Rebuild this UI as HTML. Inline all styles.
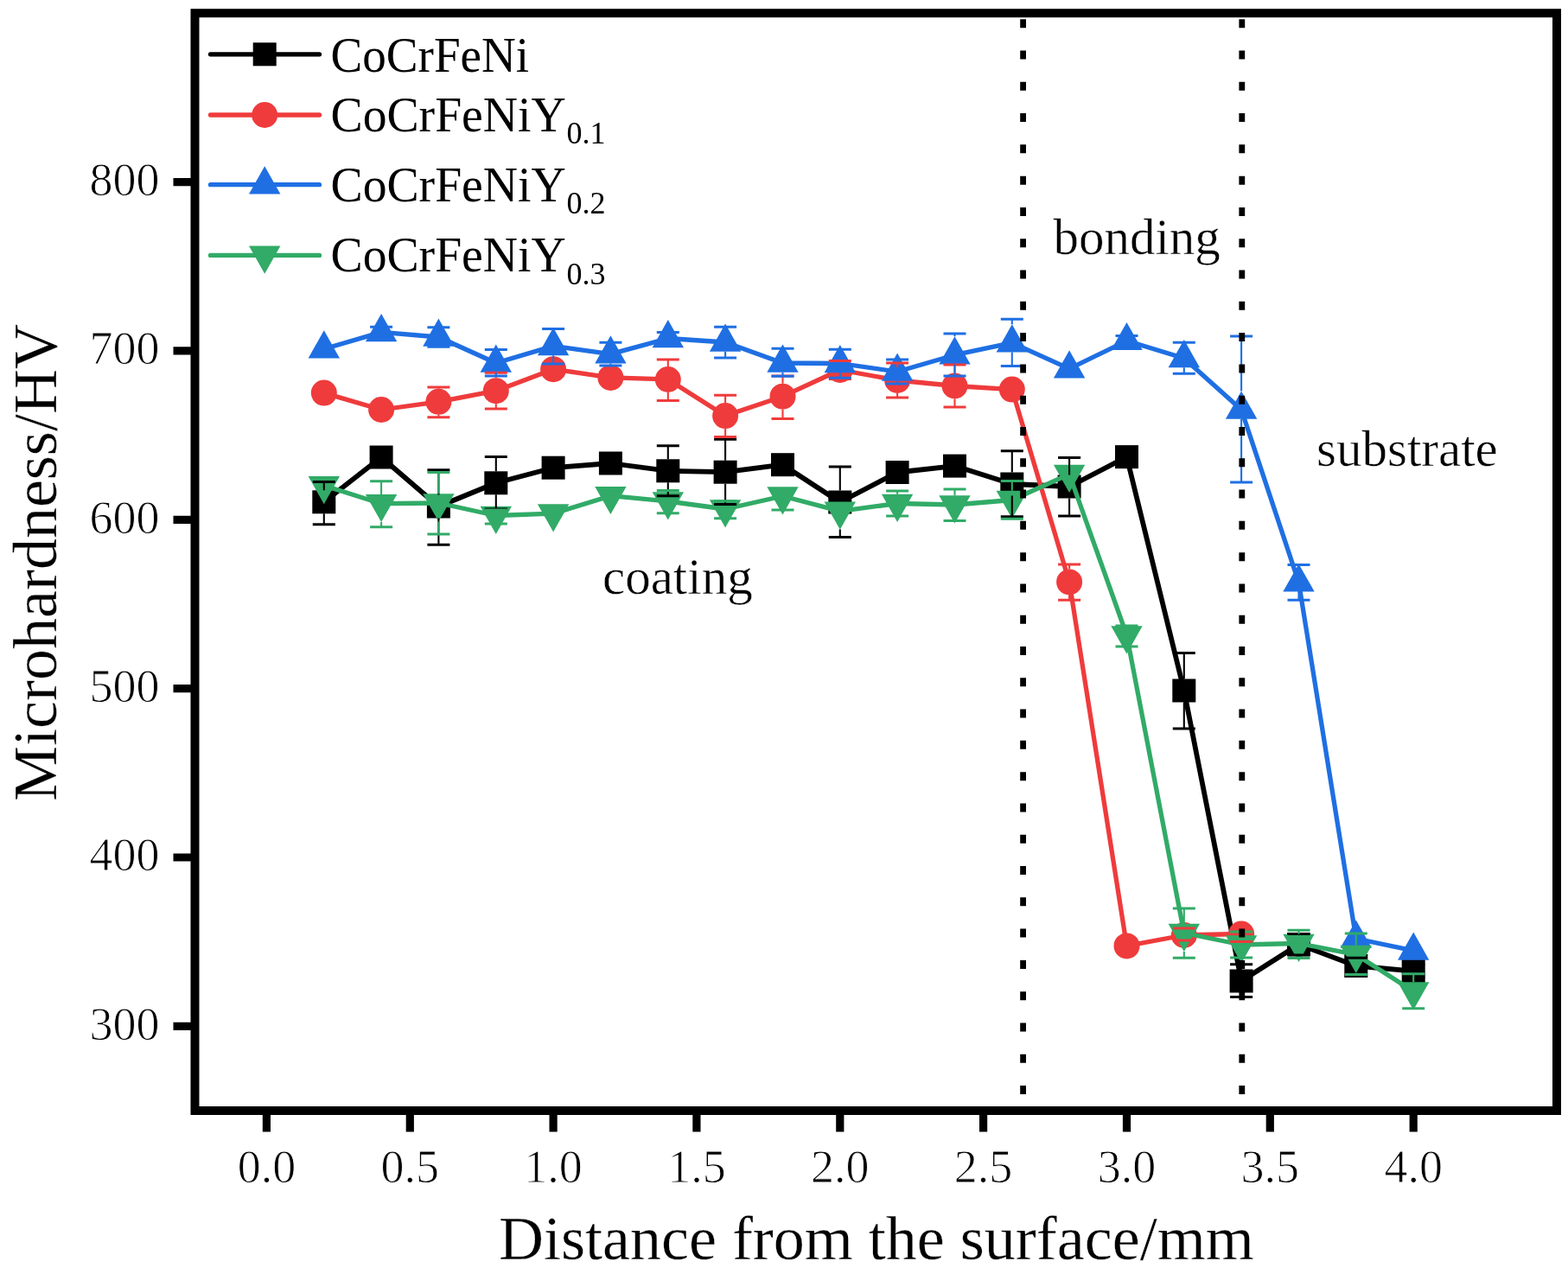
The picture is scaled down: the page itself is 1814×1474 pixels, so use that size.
<!DOCTYPE html>
<html><head><meta charset="utf-8"><title>Microhardness chart</title>
<style>
html,body{margin:0;padding:0;background:#fff;}
body{width:1814px;height:1474px;overflow:hidden;}
svg{display:block;}
text{fill:#000;}
.tk{stroke:#fff;stroke-width:0.9px;}
.an{stroke:#fff;stroke-width:0.5px;}
.ti{stroke:#fff;stroke-width:0.3px;}
</style></head>
<body>
<svg width="1814" height="1474" viewBox="0 0 1814 1474">
<rect width="1814" height="1474" fill="#fff"/>
<polyline points="374.8,580.8 441.1,529 507.4,586 573.8,558.8 640.1,541.2 706.4,536 772.8,544.8 839.1,546.2 905.5,537.7 971.8,581 1038.1,546.5 1104.5,539.1 1170.8,560 1237.1,563 1303.5,528.6 1369.8,799 1436.1,1135 1502.5,1092.7 1568.8,1117.5 1635.2,1123.6" fill="none" stroke="#000000" stroke-width="5.8" stroke-linejoin="round" stroke-linecap="round"/>
<rect x="361.3" y="567.3" width="27" height="27" fill="#000000"/>
<rect x="427.6" y="515.5" width="27" height="27" fill="#000000"/>
<rect x="493.9" y="572.5" width="27" height="27" fill="#000000"/>
<rect x="560.3" y="545.3" width="27" height="27" fill="#000000"/>
<rect x="626.6" y="527.7" width="27" height="27" fill="#000000"/>
<rect x="692.9" y="522.5" width="27" height="27" fill="#000000"/>
<rect x="759.3" y="531.3" width="27" height="27" fill="#000000"/>
<rect x="825.6" y="532.7" width="27" height="27" fill="#000000"/>
<rect x="892" y="524.2" width="27" height="27" fill="#000000"/>
<rect x="958.3" y="567.5" width="27" height="27" fill="#000000"/>
<rect x="1024.6" y="533" width="27" height="27" fill="#000000"/>
<rect x="1091" y="525.6" width="27" height="27" fill="#000000"/>
<rect x="1157.3" y="546.5" width="27" height="27" fill="#000000"/>
<rect x="1223.6" y="549.5" width="27" height="27" fill="#000000"/>
<rect x="1290" y="515.1" width="27" height="27" fill="#000000"/>
<rect x="1356.3" y="785.5" width="27" height="27" fill="#000000"/>
<rect x="1422.6" y="1121.5" width="27" height="27" fill="#000000"/>
<rect x="1489" y="1079.2" width="27" height="27" fill="#000000"/>
<rect x="1555.3" y="1104" width="27" height="27" fill="#000000"/>
<rect x="1621.7" y="1110.1" width="27" height="27" fill="#000000"/>
<polyline points="374.8,454.6 441.1,474 507.4,464.8 573.8,452.2 640.1,427.2 706.4,436.9 772.8,439 839.1,481.1 905.5,458.7 971.8,428 1038.1,440 1104.5,446.5 1170.8,450.6 1237.1,673.4 1303.5,1094.4 1369.8,1082 1436.1,1080.5" fill="none" stroke="#ef3b3c" stroke-width="5.3" stroke-linejoin="round" stroke-linecap="round"/>
<circle cx="374.8" cy="454.6" r="15" fill="#ef3b3c"/>
<circle cx="441.1" cy="474" r="15" fill="#ef3b3c"/>
<circle cx="507.4" cy="464.8" r="15" fill="#ef3b3c"/>
<circle cx="573.8" cy="452.2" r="15" fill="#ef3b3c"/>
<circle cx="640.1" cy="427.2" r="15" fill="#ef3b3c"/>
<circle cx="706.4" cy="436.9" r="15" fill="#ef3b3c"/>
<circle cx="772.8" cy="439" r="15" fill="#ef3b3c"/>
<circle cx="839.1" cy="481.1" r="15" fill="#ef3b3c"/>
<circle cx="905.5" cy="458.7" r="15" fill="#ef3b3c"/>
<circle cx="971.8" cy="428" r="15" fill="#ef3b3c"/>
<circle cx="1038.1" cy="440" r="15" fill="#ef3b3c"/>
<circle cx="1104.5" cy="446.5" r="15" fill="#ef3b3c"/>
<circle cx="1170.8" cy="450.6" r="15" fill="#ef3b3c"/>
<circle cx="1237.1" cy="673.4" r="15" fill="#ef3b3c"/>
<circle cx="1303.5" cy="1094.4" r="15" fill="#ef3b3c"/>
<circle cx="1369.8" cy="1082" r="15" fill="#ef3b3c"/>
<circle cx="1436.1" cy="1080.5" r="15" fill="#ef3b3c"/>
<polyline points="374.8,403.7 441.1,384.4 507.4,390 573.8,420 640.1,400.4 706.4,409.6 772.8,391.5 839.1,396 905.5,420 971.8,420.5 1038.1,430 1104.5,410.7 1170.8,396.6 1237.1,426.6 1303.5,394.3 1369.8,414.5 1436.1,474 1502.5,673.8 1568.8,1086 1635.2,1099.9" fill="none" stroke="#1f6fe3" stroke-width="5.3" stroke-linejoin="round" stroke-linecap="round"/>
<path d="M374.8 382.3L393 414.5L356.6 414.5Z" fill="#1f6fe3"/>
<path d="M441.1 363L459.3 395.2L422.9 395.2Z" fill="#1f6fe3"/>
<path d="M507.4 368.6L525.6 400.8L489.2 400.8Z" fill="#1f6fe3"/>
<path d="M573.8 398.6L592 430.8L555.6 430.8Z" fill="#1f6fe3"/>
<path d="M640.1 379L658.3 411.2L621.9 411.2Z" fill="#1f6fe3"/>
<path d="M706.4 388.2L724.6 420.4L688.2 420.4Z" fill="#1f6fe3"/>
<path d="M772.8 370.1L791 402.3L754.6 402.3Z" fill="#1f6fe3"/>
<path d="M839.1 374.6L857.3 406.8L820.9 406.8Z" fill="#1f6fe3"/>
<path d="M905.5 398.6L923.7 430.8L887.3 430.8Z" fill="#1f6fe3"/>
<path d="M971.8 399.1L990 431.3L953.6 431.3Z" fill="#1f6fe3"/>
<path d="M1038.1 408.6L1056.3 440.8L1019.9 440.8Z" fill="#1f6fe3"/>
<path d="M1104.5 389.3L1122.7 421.5L1086.3 421.5Z" fill="#1f6fe3"/>
<path d="M1170.8 375.2L1189 407.4L1152.6 407.4Z" fill="#1f6fe3"/>
<path d="M1237.1 405.2L1255.3 437.4L1218.9 437.4Z" fill="#1f6fe3"/>
<path d="M1303.5 372.9L1321.7 405.1L1285.3 405.1Z" fill="#1f6fe3"/>
<path d="M1369.8 393.1L1388 425.3L1351.6 425.3Z" fill="#1f6fe3"/>
<path d="M1436.1 452.6L1454.3 484.8L1417.9 484.8Z" fill="#1f6fe3"/>
<path d="M1502.5 652.4L1520.7 684.6L1484.3 684.6Z" fill="#1f6fe3"/>
<path d="M1568.8 1064.6L1587 1096.8L1550.6 1096.8Z" fill="#1f6fe3"/>
<path d="M1635.2 1078.5L1653.4 1110.7L1617 1110.7Z" fill="#1f6fe3"/>
<polyline points="374.8,561.8 441.1,582.7 507.4,582 573.8,596.5 640.1,594.1 706.4,573.7 772.8,580 839.1,589 905.5,574 971.8,591.4 1038.1,582.5 1104.5,584 1170.8,578.5 1237.1,548.6 1303.5,735 1369.8,1079.5 1436.1,1093 1502.5,1091.5 1568.8,1104.5 1635.2,1147" fill="none" stroke="#31ab67" stroke-width="5.3" stroke-linejoin="round" stroke-linecap="round"/>
<path d="M374.8 583.2L393 551L356.6 551Z" fill="#31ab67"/>
<path d="M441.1 604.1L459.3 571.9L422.9 571.9Z" fill="#31ab67"/>
<path d="M507.4 603.4L525.6 571.2L489.2 571.2Z" fill="#31ab67"/>
<path d="M573.8 617.9L592 585.7L555.6 585.7Z" fill="#31ab67"/>
<path d="M640.1 615.5L658.3 583.3L621.9 583.3Z" fill="#31ab67"/>
<path d="M706.4 595.1L724.6 562.9L688.2 562.9Z" fill="#31ab67"/>
<path d="M772.8 601.4L791 569.2L754.6 569.2Z" fill="#31ab67"/>
<path d="M839.1 610.4L857.3 578.2L820.9 578.2Z" fill="#31ab67"/>
<path d="M905.5 595.4L923.7 563.2L887.3 563.2Z" fill="#31ab67"/>
<path d="M971.8 612.8L990 580.6L953.6 580.6Z" fill="#31ab67"/>
<path d="M1038.1 603.9L1056.3 571.7L1019.9 571.7Z" fill="#31ab67"/>
<path d="M1104.5 605.4L1122.7 573.2L1086.3 573.2Z" fill="#31ab67"/>
<path d="M1170.8 599.9L1189 567.7L1152.6 567.7Z" fill="#31ab67"/>
<path d="M1237.1 570L1255.3 537.8L1218.9 537.8Z" fill="#31ab67"/>
<path d="M1303.5 756.4L1321.7 724.2L1285.3 724.2Z" fill="#31ab67"/>
<path d="M1369.8 1100.9L1388 1068.7L1351.6 1068.7Z" fill="#31ab67"/>
<path d="M1436.1 1114.4L1454.3 1082.2L1417.9 1082.2Z" fill="#31ab67"/>
<path d="M1502.5 1112.9L1520.7 1080.7L1484.3 1080.7Z" fill="#31ab67"/>
<path d="M1568.8 1125.9L1587 1093.7L1550.6 1093.7Z" fill="#31ab67"/>
<path d="M1635.2 1168.4L1653.4 1136.2L1617 1136.2Z" fill="#31ab67"/>
<path d="M374.8 557.4V567.3M374.8 594.3V606.7M507.4 543.8V572.5M507.4 599.5V630.3M573.8 528.5V545.3M573.8 572.3V589M772.8 515.7V531.3M772.8 558.3V573.7M839.1 508.2V532.7M839.1 559.7V583.5M971.8 539.9V567.5M971.8 612.5V621.6M1170.8 521.8V546.5M1170.8 573.5V597.7M1237.1 529.5V549.5M1237.1 576.5V597.1M1369.8 755.4V785.5M1369.8 812.5V842.9M1436.1 1115.8V1121.5M1436.1 1148.5V1153.4" stroke="#000000" stroke-width="2.1" fill="none"/><path d="M361.8 557.4H387.8M361.8 606.7H387.8M494.4 543.8H520.4M494.4 630.3H520.4M560.8 528.5H586.8M560.8 589H586.8M759.8 515.7H785.8M759.8 573.7H785.8M826.1 508.2H852.1M826.1 583.5H852.1M958.8 539.9H984.8M958.8 621.6H984.8M1157.8 521.8H1183.8M1157.8 597.7H1183.8M1224.1 529.5H1250.1M1224.1 597.1H1250.1M1356.8 755.4H1382.8M1356.8 842.9H1382.8M1423.1 1115.8H1449.1M1423.1 1153.4H1449.1M1489.5 1080.6H1515.5M1489.5 1105H1515.5M1555.8 1108.2H1581.8M1555.8 1129.4H1581.8M1622.2 1116H1648.2M1622.2 1131H1648.2" stroke="#000000" stroke-width="3.0" fill="none"/>
<path d="M507.4 447.9V449.8M507.4 479.8V482.7M573.8 431.2V437.2M573.8 467.2V473M772.8 416V424M772.8 454V463.4M839.1 457.3V466.1M839.1 496.1V505.5M905.5 434.9V443.7M905.5 473.7V484.6M1038.1 420V425M1038.1 455V460.1M1104.5 422V431.5M1104.5 461.5V470.9M1237.1 653V658.4M1237.1 688.4V694.3" stroke="#ef3b3c" stroke-width="2.1" fill="none"/><path d="M494.4 447.9H520.4M494.4 482.7H520.4M560.8 431.2H586.8M560.8 473H586.8M627.1 421H653.1M627.1 433.4H653.1M759.8 416H785.8M759.8 463.4H785.8M826.1 457.3H852.1M826.1 505.5H852.1M892.5 434.9H918.5M892.5 484.6H918.5M958.8 417.6H984.8M958.8 438.4H984.8M1025.1 420H1051.1M1025.1 460.1H1051.1M1091.5 422H1117.5M1091.5 470.9H1117.5M1224.1 653H1250.1M1224.1 694.3H1250.1M1356.8 1074H1382.8M1356.8 1088H1382.8M1423.1 1077.9H1449.1M1423.1 1089.6H1449.1" stroke="#ef3b3c" stroke-width="3.0" fill="none"/>
<path d="M507.4 400.8V401.3M573.8 430.8V434.9M640.1 411.2V421M706.4 420.4V423M839.1 406.8V414M905.5 430.8V435.3M971.8 431.3V437.3M1038.1 440.8V444M1104.5 386V389.3M1104.5 421.5V435M1170.8 369.2V375.2M1170.8 407.4V423.5M1369.8 425.3V432.3M1436.1 389V452.6M1436.1 484.8V558.1M1502.5 684.6V694.2" stroke="#1f6fe3" stroke-width="2.1" fill="none"/><path d="M428.1 378.3H454.1M428.1 390.5H454.1M494.4 378.7H520.4M494.4 401.3H520.4M560.8 404.4H586.8M560.8 434.9H586.8M627.1 380.4H653.1M627.1 421H653.1M693.4 396.2H719.4M693.4 423H719.4M759.8 384.4H785.8M759.8 398.6H785.8M826.1 378.3H852.1M826.1 414H852.1M892.5 403.2H918.5M892.5 435.3H918.5M958.8 404.2H984.8M958.8 437.3H984.8M1025.1 416H1051.1M1025.1 444H1051.1M1091.5 386H1117.5M1091.5 435H1117.5M1157.8 369.2H1183.8M1157.8 423.5H1183.8M1290.5 388.5H1316.5M1290.5 400H1316.5M1356.8 396.2H1382.8M1356.8 432.3H1382.8M1423.1 389H1449.1M1423.1 558.1H1449.1M1489.5 653.4H1515.5M1489.5 694.2H1515.5" stroke="#1f6fe3" stroke-width="3.0" fill="none"/>
<path d="M441.1 556.8V571.9M441.1 604.1V609.7M507.4 546.6V571.2M507.4 603.4V618M772.8 567.6V569.2M1038.1 568V571.7M1104.5 566V573.2M1170.8 556.4V567.7M1170.8 599.9V600.2M1303.5 724V724.2M1369.8 1051V1068.7M1369.8 1100.9V1108.2M1436.1 1078V1082.2M1502.5 1076.2V1080.7M1568.8 1080V1093.7M1568.8 1125.9V1127.6M1635.2 1126.7V1136.2" stroke="#31ab67" stroke-width="2.1" fill="none"/><path d="M428.1 556.8H454.1M428.1 609.7H454.1M494.4 546.6H520.4M494.4 618H520.4M560.8 590H586.8M560.8 606H586.8M759.8 567.6H785.8M759.8 593.7H785.8M826.1 579.8H852.1M826.1 599.8H852.1M892.5 565.6H918.5M892.5 590H918.5M1025.1 568H1051.1M1025.1 597H1051.1M1091.5 566H1117.5M1091.5 602.6H1117.5M1157.8 556.4H1183.8M1157.8 600.2H1183.8M1290.5 724H1316.5M1290.5 748H1316.5M1356.8 1051H1382.8M1356.8 1108.2H1382.8M1423.1 1078H1449.1M1423.1 1108H1449.1M1489.5 1076.2H1515.5M1489.5 1108.5H1515.5M1555.8 1080H1581.8M1555.8 1127.6H1581.8M1622.2 1126.7H1648.2M1622.2 1166.8H1648.2" stroke="#31ab67" stroke-width="3.0" fill="none"/>
<line x1="1183.6" y1="22.2" x2="1183.6" y2="1280" stroke="#000" stroke-width="6.8" stroke-dasharray="10 26.29"/>
<line x1="1436.8" y1="22.2" x2="1436.8" y2="1280" stroke="#000" stroke-width="6.8" stroke-dasharray="10 26.29"/>
<rect x="225.5" y="15.2" width="1575.5" height="1269.8" fill="none" stroke="#000" stroke-width="10.0"/>
<path d="M200.5 1187.3H225.5M200.5 992H225.5M200.5 796.6H225.5M200.5 601.3H225.5M200.5 405.9H225.5M200.5 210.6H225.5M308.4 1285V1309.5M474.3 1285V1309.5M640.1 1285V1309.5M805.9 1285V1309.5M971.8 1285V1309.5M1137.6 1285V1309.5M1303.5 1285V1309.5M1469.3 1285V1309.5M1635.2 1285V1309.5" stroke="#000" stroke-width="9.2" fill="none"/>
<text class="tk" x="184.5" y="1202.6" font-size="54" text-anchor="end" font-family="Liberation Serif, Times New Roman, serif">300</text>
<text class="tk" x="184.5" y="1007.3" font-size="54" text-anchor="end" font-family="Liberation Serif, Times New Roman, serif">400</text>
<text class="tk" x="184.5" y="811.9" font-size="54" text-anchor="end" font-family="Liberation Serif, Times New Roman, serif">500</text>
<text class="tk" x="184.5" y="616.6" font-size="54" text-anchor="end" font-family="Liberation Serif, Times New Roman, serif">600</text>
<text class="tk" x="184.5" y="421.2" font-size="54" text-anchor="end" font-family="Liberation Serif, Times New Roman, serif">700</text>
<text class="tk" x="184.5" y="225.9" font-size="54" text-anchor="end" font-family="Liberation Serif, Times New Roman, serif">800</text>
<text class="tk" x="308.4" y="1368" font-size="54" text-anchor="middle" font-family="Liberation Serif, Times New Roman, serif">0.0</text>
<text class="tk" x="474.3" y="1368" font-size="54" text-anchor="middle" font-family="Liberation Serif, Times New Roman, serif">0.5</text>
<text class="tk" x="640.1" y="1368" font-size="54" text-anchor="middle" font-family="Liberation Serif, Times New Roman, serif">1.0</text>
<text class="tk" x="805.9" y="1368" font-size="54" text-anchor="middle" font-family="Liberation Serif, Times New Roman, serif">1.5</text>
<text class="tk" x="971.8" y="1368" font-size="54" text-anchor="middle" font-family="Liberation Serif, Times New Roman, serif">2.0</text>
<text class="tk" x="1137.6" y="1368" font-size="54" text-anchor="middle" font-family="Liberation Serif, Times New Roman, serif">2.5</text>
<text class="tk" x="1303.5" y="1368" font-size="54" text-anchor="middle" font-family="Liberation Serif, Times New Roman, serif">3.0</text>
<text class="tk" x="1469.3" y="1368" font-size="54" text-anchor="middle" font-family="Liberation Serif, Times New Roman, serif">3.5</text>
<text class="tk" x="1635.2" y="1368" font-size="54" text-anchor="middle" font-family="Liberation Serif, Times New Roman, serif">4.0</text>
<text class="ti" x="0" y="0" transform="translate(65.1 927) rotate(-90)" font-size="72" font-family="Liberation Serif, Times New Roman, serif">Microhardness/HV</text>
<text class="ti" x="577" y="1456.7" font-size="72" font-family="Liberation Serif, Times New Roman, serif">Distance from the surface/mm</text>
<text class="an" x="1218.4" y="294.2" font-size="59" font-family="Liberation Serif, Times New Roman, serif">bonding</text>
<text class="an" x="697" y="687.3" font-size="59" font-family="Liberation Serif, Times New Roman, serif">coating</text>
<text class="an" x="1523" y="538.9" font-size="59" font-family="Liberation Serif, Times New Roman, serif">substrate</text>
<line x1="243.5" y1="62.8" x2="369.5" y2="62.8" stroke="#000000" stroke-width="5.3" stroke-linecap="round"/>
<rect x="292.7" y="49.3" width="27" height="27" fill="#000000"/>
<text transform="translate(382.5 83) scale(0.967 1)" font-size="57" font-family="Liberation Serif, Times New Roman, serif">CoCrFeNi</text>
<line x1="243.5" y1="133" x2="369.5" y2="133" stroke="#ef3b3c" stroke-width="5.3" stroke-linecap="round"/>
<circle cx="306.2" cy="133" r="15" fill="#ef3b3c"/>
<text transform="translate(382.5 151.7) scale(0.977 1)" font-size="57" font-family="Liberation Serif, Times New Roman, serif">CoCrFeNiY</text>
<text x="655.6" y="166" font-size="36" font-family="Liberation Serif, Times New Roman, serif">0.1</text>
<line x1="243.5" y1="213.7" x2="369.5" y2="213.7" stroke="#1f6fe3" stroke-width="5.3" stroke-linecap="round"/>
<path d="M306.2 192.3L324.4 224.5L288 224.5Z" fill="#1f6fe3"/>
<text transform="translate(382.5 232.9) scale(0.977 1)" font-size="57" font-family="Liberation Serif, Times New Roman, serif">CoCrFeNiY</text>
<text x="655.6" y="247.3" font-size="36" font-family="Liberation Serif, Times New Roman, serif">0.2</text>
<line x1="243.5" y1="295.4" x2="369.5" y2="295.4" stroke="#31ab67" stroke-width="5.3" stroke-linecap="round"/>
<path d="M306.2 316.8L324.4 284.6L288 284.6Z" fill="#31ab67"/>
<text transform="translate(382.5 314.4) scale(0.977 1)" font-size="57" font-family="Liberation Serif, Times New Roman, serif">CoCrFeNiY</text>
<text x="655.6" y="329" font-size="36" font-family="Liberation Serif, Times New Roman, serif">0.3</text>
</svg>
</body></html>
